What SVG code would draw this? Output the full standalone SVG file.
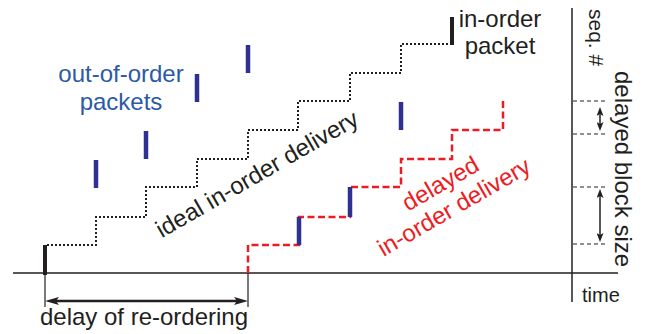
<svg xmlns="http://www.w3.org/2000/svg" width="646" height="334" viewBox="0 0 646 334">
<style>
text{font-family:"Liberation Sans",Arial,sans-serif;font-size:24px;fill:#231f20}
.blue{fill:#2b5aa6}
.red{fill:#ed1c24}
.axis{stroke:#231f20;stroke-width:1.5;fill:none}
.thin{stroke:#231f20;stroke-width:1.2;fill:none}
.dash{stroke:#231f20;stroke-width:1.2;fill:none;stroke-dasharray:4 3}
.dot{stroke:#231f20;stroke-width:2;fill:none;stroke-dasharray:2 2}
.rdash{stroke:#ed1c24;stroke-width:2.5;fill:none;stroke-dasharray:7 3.5}
.bbar{stroke:#2e3192;stroke-width:4.5}
.kbar{stroke:#231f20;stroke-width:4}
</style>
<defs>
<marker id="ah" viewBox="0 0 14 8" refX="4" refY="4" markerWidth="14" markerHeight="8" markerUnits="userSpaceOnUse" orient="auto-start-reverse">
<path d="M0,0 L14,4 L0,8 L3,4 Z" fill="#231f20"/>
</marker>
<marker id="sah" viewBox="0 0 9 7" refX="3" refY="3.5" markerWidth="9" markerHeight="7" markerUnits="userSpaceOnUse" orient="auto-start-reverse">
<path d="M0,0 L9,3.5 L0,7 L2,3.5 Z" fill="#231f20"/>
</marker>
</defs>
<g id="connectors">
<line class="axis" x1="13" y1="273" x2="618" y2="273"/>
<line class="axis" x1="572" y1="8" x2="572" y2="302"/>
<line class="thin" x1="45" y1="273" x2="45" y2="307"/>
<line class="thin" x1="248" y1="273" x2="248" y2="307"/>
<line stroke="#231f20" stroke-width="2.5" x1="55" y1="301" x2="238" y2="301" marker-start="url(#ah)" marker-end="url(#ah)"/>
<path class="dash" d="M573,101 H607 M573,134 H607 M573,187 H607 M573,244 H607"/>
<line stroke="#231f20" stroke-width="1.5" x1="600" y1="113" x2="600" y2="125" marker-start="url(#sah)" marker-end="url(#sah)"/>
<line stroke="#231f20" stroke-width="1.5" x1="600" y1="195" x2="600" y2="236" marker-start="url(#sah)" marker-end="url(#sah)"/>
<path id="ideal" class="dot" d="M47,245 H96 V217 H146 V187 H197 V159 H248 V130 H298 V101 H350 V73 H401 V44 H450"/>
<path id="delayed" class="rdash" d="M248,273 V245 H299 V217 H350 V187 H401 V159 H452 V130 H503 V101"/>
</g>
<g id="in-order-packets">
<line class="kbar" x1="45" y1="245" x2="45" y2="275"/>
<line class="kbar" x1="452" y1="17" x2="452" y2="45"/>
</g>
<g id="out-of-order-bars">
<line class="bbar" x1="96" y1="160" x2="96" y2="188"/>
<line class="bbar" x1="146" y1="131" x2="146" y2="159"/>
<line class="bbar" x1="197" y1="74" x2="197" y2="102"/>
<line class="bbar" x1="248" y1="45" x2="248" y2="73"/>
<line class="bbar" x1="401" y1="102" x2="401" y2="130"/>
<line class="bbar" x1="299" y1="217" x2="299" y2="245"/>
<line class="bbar" x1="350" y1="187" x2="350" y2="217"/>
</g>
<g id="labels">
<text class="blue" x="121" y="82" text-anchor="middle">out-of-order</text>
<text class="blue" x="121" y="110" text-anchor="middle">packets</text>
<text x="500" y="27" text-anchor="middle">in-order</text>
<text x="500" y="54" text-anchor="middle">packet</text>
<text transform="translate(261,181) rotate(-30)" text-anchor="middle">ideal in-order delivery</text>
<text class="red" transform="translate(458,214) rotate(-30)" text-anchor="middle"><tspan x="0" y="-27">delayed</tspan><tspan x="0" y="0">in-order delivery</tspan></text>
<text transform="translate(589,9) rotate(90)" style="font-size:21px">seq. #</text>
<text transform="translate(615,71) rotate(90)">delayed block size</text>
<text x="582" y="302" style="font-size:20px">time</text>
<text x="144" y="325" text-anchor="middle">delay of re-ordering</text>
</g>
</svg>
